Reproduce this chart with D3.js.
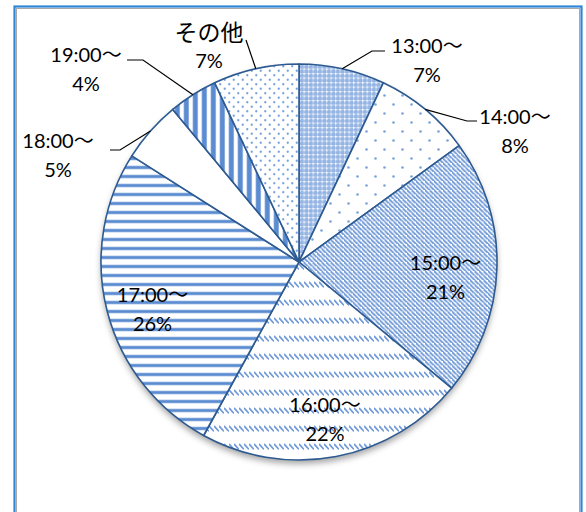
<!DOCTYPE html>
<html>
<head>
<meta charset="utf-8">
<script src="https://cdn.jsdelivr.net/npm/d3@7"></script>
<style>
  body { margin: 0; background: #fff; }
  svg { display: block; }
</style>
</head>
<body>
<svg id="chart" width="586" height="512"></svg>
<script>
// Share of arrivals by time band (percent)
const categories = ["13:00～", "14:00～", "15:00～", "16:00～", "17:00～", "18:00～", "19:00～", "その他"];
const shares = [7, 8, 21, 22, 26, 5, 4, 7];

// Fill pattern used for each slice, in category order
const slicePatterns = ["grid", "sparseDots", "diag", "dashDiag", "hStripes", "none", "vStripes", "denseDots"];

// Label placement: centre x and first baseline; optional leader elbow points
const labelSpots = [
  { x: 427, y: 53, leader: [[372, 51], [385, 51]] },
  { x: 515, y: 124, leader: [[467, 121], [477, 121]] },
  { x: 445.5, y: 270 },
  { x: 325, y: 412 },
  { x: 152.5, y: 301.5 },
  { x: 58, y: 148, leader: [[120, 150], [110, 150]] },
  { x: 86, y: 62, leader: [[143, 60], [127, 60]] },
  { x: 209, y: 41, leader: [[246, 40]], lineGap: 27, firstSize: 23 }
];

const W = 586, H = 512;
const cx = 299, cy = 262, radius = 198;
const blue = "#5b8bd0", dotBlue = "#7aa3dc", edge = "#2c5a91";

const svg = d3.select("#chart");
const defs = svg.append("defs");

// ---- patterns ----
function pattern(id, w, h) {
  return defs.append("pattern").attr("id", id)
    .attr("patternUnits", "userSpaceOnUse")
    .attr("width", w).attr("height", h);
}
{ // fine blue mesh with light spots
  const p = pattern("grid", 4.5, 4.5);
  p.append("rect").attr("width", 4.5).attr("height", 4.5).attr("fill", "#94b4e3");
  p.append("rect").attr("x", 0).attr("y", 0).attr("width", 4.5).attr("height", 1.1).attr("fill", "#bcd0ef");
  p.append("rect").attr("x", 0).attr("y", 0).attr("width", 1.1).attr("height", 4.5).attr("fill", "#bcd0ef");
  p.append("rect").attr("x", 0).attr("y", 0).attr("width", 1.5).attr("height", 1.5).attr("fill", "#ffffff");
}
{ // sparse staggered dots
  const p = pattern("sparseDots", 18, 18);
  p.append("rect").attr("width", 18).attr("height", 18).attr("fill", "#fff");
  [[4.5, 4.5], [13.5, 13.5]].forEach(([x, y]) =>
    p.append("circle").attr("cx", x).attr("cy", y).attr("r", 1.3).attr("fill", dotBlue));
}
{ // dense staggered dots
  const p = pattern("denseDots", 9, 9);
  p.append("rect").attr("width", 9).attr("height", 9).attr("fill", "#fff");
  [[2.25, 2.25], [6.75, 6.75]].forEach(([x, y]) =>
    p.append("circle").attr("cx", x).attr("cy", y).attr("r", 1.15).attr("fill", dotBlue));
}
{ // downward diagonal lines
  const s = 4.5;
  const p = pattern("diag", s, s);
  p.append("rect").attr("width", s).attr("height", s).attr("fill", "#fff");
  p.append("path").attr("d", `M${-s},0L${s * 2},${s * 3} M${-s},${-s}L${s * 2},${s * 2} M${-s},${s}L${s * 2},${s * 4} M${-2 * s},${-s}L${s},${s * 2}`)
    .attr("stroke", "#6f99d7").attr("stroke-width", 1.8);
}
{ // short downward dashes in bands
  const p = pattern("dashDiag", 5, 18);
  p.append("rect").attr("width", 5).attr("height", 18).attr("fill", "#fff");
  p.append("path").attr("d", "M0.4,2.4L4.4,6.8")
    .attr("stroke", "#6f99d7").attr("stroke-width", 1.7).attr("stroke-linecap", "round");
}
{ // horizontal stripes
  const p = pattern("hStripes", 9, 9);
  p.append("rect").attr("width", 9).attr("height", 9).attr("fill", "#fff");
  p.append("rect").attr("x", 0).attr("y", 2.6).attr("width", 9).attr("height", 3.8).attr("fill", "#a9c3e9");
  p.append("rect").attr("x", 0).attr("y", 3.3).attr("width", 9).attr("height", 2.4).attr("fill", blue);
}
{ // vertical stripes
  const p = pattern("vStripes", 9, 9);
  p.append("rect").attr("width", 9).attr("height", 9).attr("fill", "#fff");
  p.append("rect").attr("x", 1.5).attr("y", 0).attr("width", 5.6).attr("height", 9).attr("fill", "#a9c3e9");
  p.append("rect").attr("x", 2.2).attr("y", 0).attr("width", 4.2).attr("height", 9).attr("fill", blue);
}

const shadow = defs.append("filter").attr("id", "pieShadow")
  .attr("x", "-10%").attr("y", "-10%").attr("width", "120%").attr("height", "125%");
shadow.append("feGaussianBlur").attr("stdDeviation", 3);

// ---- frame ----
svg.append("rect").attr("x", 0).attr("y", 0).attr("width", W).attr("height", H).attr("fill", "#fff");
svg.append("rect").attr("x", 14.5).attr("y", 6.5).attr("width", 567).attr("height", 530)
  .attr("fill", "none").attr("stroke", "#2f86d6").attr("stroke-width", 2.2);
svg.append("rect").attr("x", 16.5).attr("y", 8.5).attr("width", 563).attr("height", 530)
  .attr("fill", "none").attr("stroke", "#a8a8a8").attr("stroke-width", 1);

// ---- pie ----
const pie = d3.pie().value(d => d).sort(null);
const arcs = pie(shares);
const arcGen = d3.arc().innerRadius(0).outerRadius(radius);

const g = svg.append("g").attr("transform", `translate(${cx},${cy})`);

g.append("circle").attr("cx", 0).attr("cy", 4).attr("r", radius)
  .attr("fill", "rgba(0,0,0,0.35)").attr("filter", "url(#pieShadow)");

g.selectAll("path.slice").data(arcs).join("path")
  .attr("class", "slice")
  .attr("d", arcGen)
  .attr("fill", (d, i) => slicePatterns[i] === "none" ? "#fff" : `url(#${slicePatterns[i]})`)
  .attr("stroke", edge)
  .attr("stroke-width", 1.6)
  .attr("stroke-linejoin", "round");

// ---- leader lines ----
const line = d3.line();
arcs.forEach((d, i) => {
  const spot = labelSpots[i];
  if (!spot.leader) return;
  const mid = (d.startAngle + d.endAngle) / 2;
  const start = [cx + Math.sin(mid) * radius, cy - Math.cos(mid) * radius];
  svg.append("path")
    .attr("d", line([start, ...spot.leader]))
    .attr("fill", "none").attr("stroke", "#000").attr("stroke-width", 1.2);
});

// ---- labels ----
const font = "Lato, 'Noto Sans CJK JP', sans-serif";
arcs.forEach((d, i) => {
  const spot = labelSpots[i];
  const gap = spot.lineGap || 29;
  const t = svg.append("text")
    .attr("text-anchor", "middle")
    .attr("font-family", font)
    .attr("font-size", 20)
    .attr("font-weight", 400)
    .attr("fill", "#000");
  t.append("tspan").attr("x", spot.x).attr("y", spot.y)
    .attr("font-size", spot.firstSize || 20)
    .text(categories[i]);
  t.append("tspan").attr("x", spot.x).attr("y", spot.y + gap)
    .text(`${d.data}%`);
});
</script>
</body>
</html>
